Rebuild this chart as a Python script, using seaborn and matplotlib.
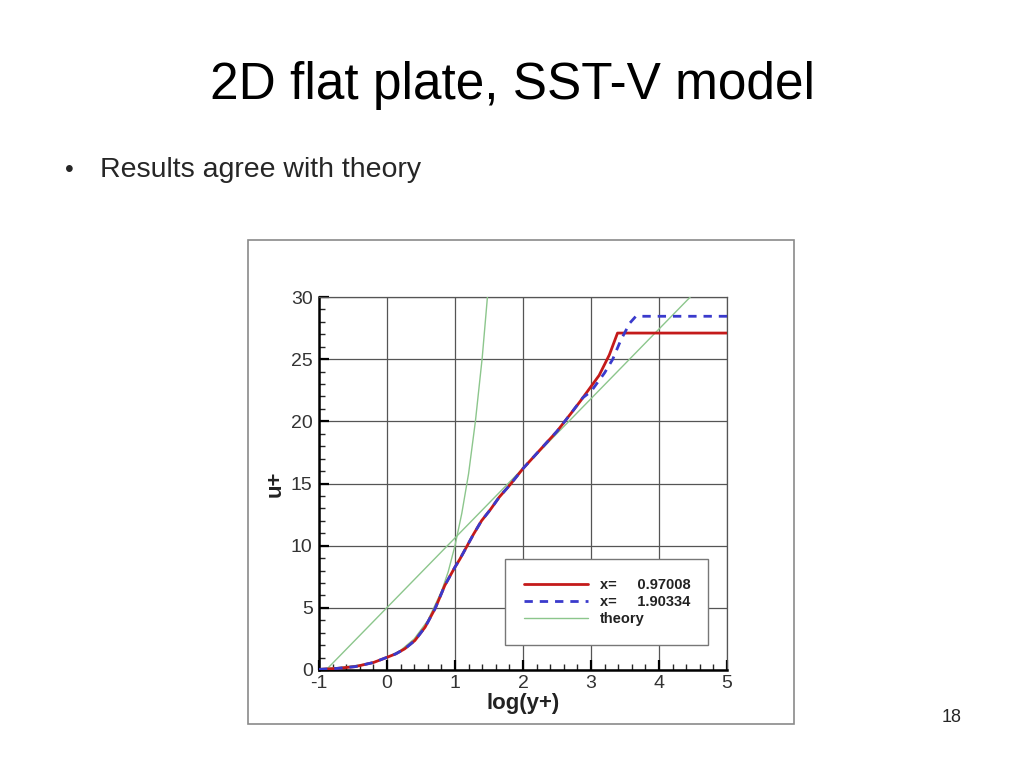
import matplotlib
matplotlib.use("Agg")
import matplotlib.pyplot as plt
from matplotlib.patches import Rectangle
from matplotlib.lines import Line2D
from matplotlib.ticker import MultipleLocator
import seaborn as sns
import pandas as pd

# ---- data ----
red_x = [-1.0, -0.75, -0.47, -0.2, 0.0, 0.13, 0.26, 0.41, 0.56, 0.71, 0.85, 1.0, 1.07, 1.2, 1.27,
         1.39, 1.52, 1.65, 1.81, 2.0, 2.25, 2.5, 2.7, 2.84, 3.0, 3.12, 3.27, 3.39, 5.0]
red_u = [0.05, 0.12, 0.27, 0.6, 1.02, 1.3, 1.7, 2.37, 3.44, 4.97, 6.8, 8.28, 8.9, 10.2, 10.9,
         12.0, 12.9, 13.9, 14.9, 16.2, 17.7, 19.2, 20.6, 21.6, 22.8, 23.7, 25.35, 27.1, 27.1]

blue_x = [-1.0, -0.75, -0.47, -0.2, 0.0, 0.13, 0.26, 0.41, 0.56, 0.71, 0.85, 1.0, 1.07, 1.2, 1.27,
          1.39, 1.52, 1.65, 1.81, 2.0, 2.25, 2.5, 2.7, 2.88, 3.0, 3.2, 3.32, 3.44, 3.57, 3.66, 5.0]
blue_u = [0.05, 0.12, 0.27, 0.6, 1.02, 1.3, 1.7, 2.37, 3.44, 4.97, 6.8, 8.28, 8.9, 10.2, 10.9,
          12.0, 12.9, 13.9, 14.9, 16.2, 17.7, 19.2, 20.6, 21.9, 22.4, 23.9, 25.0, 26.55, 27.9, 28.45, 28.45]

theory_lin_x = [-1.0, -0.7, -0.4, -0.2, 0.0, 0.2, 0.4, 0.6, 0.8, 0.9, 1.0, 1.1, 1.2, 1.3, 1.4, 1.477]
theory_lin_u = [0.1, 0.2, 0.4, 0.63, 1.0, 1.58, 2.5, 3.98, 6.3, 7.9, 10.0, 12.6, 15.8, 20.0, 25.1, 30.0]

theory_log_x = [-0.87, 4.46]
theory_log_u = [0.15, 30.0]

legend_labels = ["x=     0.97008", "x=     1.90334", "theory"]

title = "2D flat plate, SST-V model"
bullet = "Results agree with theory"
page = "18"

# ---- figure ----
sns.set_style("white")
plt.rcParams["font.family"] = ["Liberation Sans", "DejaVu Sans"]
plt.rcParams["axes.unicode_minus"] = False

fig = plt.figure(figsize=(10.24, 7.68), dpi=100)
fig.patch.set_facecolor("white")

# frame around the embedded picture
fig.patches.append(Rectangle((248 / 1024, 1 - 724 / 768), (794 - 248) / 1024, (724 - 240) / 768,
                             transform=fig.transFigure, fill=False, edgecolor="#8a8a8a", lw=1.2))

ax = fig.add_axes([319 / 1024, 1 - 670 / 768, 408 / 1024, 373 / 768])

red = "#c41a1a"
blue = "#3a3acc"
green = "#8cc68c"
dash = (0, (3, 2.5))

df_red = pd.DataFrame({"x": red_x, "u": red_u})
df_blue = pd.DataFrame({"x": blue_x, "u": blue_u})
df_lin = pd.DataFrame({"x": theory_lin_x, "u": theory_lin_u})
df_log = pd.DataFrame({"x": theory_log_x, "u": theory_log_u})

sns.lineplot(data=df_lin, x="x", y="u", ax=ax, color=green, lw=1.0, sort=False, zorder=3)
sns.lineplot(data=df_log, x="x", y="u", ax=ax, color=green, lw=1.0, sort=False, zorder=3)
sns.lineplot(data=df_red, x="x", y="u", ax=ax, color=red, lw=2.0, sort=False, zorder=4)
sns.lineplot(data=df_blue, x="x", y="u", ax=ax, color=blue, lw=2.0, sort=False, zorder=5,
             linestyle=dash)

ax.set_xlim(-1, 5)
ax.set_ylim(0, 30)
ax.xaxis.set_major_locator(MultipleLocator(1))
ax.xaxis.set_minor_locator(MultipleLocator(0.2))
ax.yaxis.set_major_locator(MultipleLocator(5))
ax.yaxis.set_minor_locator(MultipleLocator(1))
ax.grid(True, which="major", color="#555555", lw=0.9)
ax.set_axisbelow(True)

for side in ["top", "right"]:
    ax.spines[side].set_color("#555555")
    ax.spines[side].set_linewidth(0.9)
for side in ["left", "bottom"]:
    ax.spines[side].set_color("black")
    ax.spines[side].set_linewidth(1.8)

ax.tick_params(which="major", direction="in", length=7, width=1.6, labelsize=14,
               colors="black", bottom=True, left=True, top=False, right=False)
ax.tick_params(which="minor", direction="in", length=4, width=1.0,
               bottom=True, left=True, top=False, right=False)
ax.tick_params(axis="y", labelcolor="#333333", pad=4.5)
ax.tick_params(axis="x", labelcolor="#333333", pad=3.5)

ax.set_xlabel("log(y+)", fontsize=16, fontweight="bold", labelpad=1, color="#222222")
ax.set_ylabel("u+", fontsize=16, fontweight="bold", labelpad=4, color="#222222")

handles = [Line2D([], [], color=red, lw=2.0),
           Line2D([], [], color=blue, lw=2.0, linestyle=dash),
           Line2D([], [], color=green, lw=1.0)]
leg = ax.legend(handles, legend_labels, loc="lower left",
                bbox_to_anchor=(0.456, 0.067, 0.497, 0.228), mode="expand", borderaxespad=0,
                frameon=True, fancybox=False, framealpha=1, edgecolor="#777777",
                handlelength=4.4, handletextpad=0.8, labelspacing=0.22,
                borderpad=1.3, prop={"weight": "bold", "size": 10.5})
leg.get_frame().set_linewidth(1.0)
for t in leg.get_texts():
    t.set_color("#222222")

fig.text(0.5, 1 - 85 / 768, title, ha="center", va="center", fontsize=37, color="black")
fig.text(65 / 1024, 1 - 170 / 768, "\u2022", ha="left", va="center", fontsize=18)
fig.text(100 / 1024, 1 - 170 / 768, bullet, ha="left", va="center", fontsize=20.5)
fig.text(962 / 1024, 1 - 717 / 768, page, ha="right", va="center", fontsize=13)

fig.savefig("out.png", dpi=100)
